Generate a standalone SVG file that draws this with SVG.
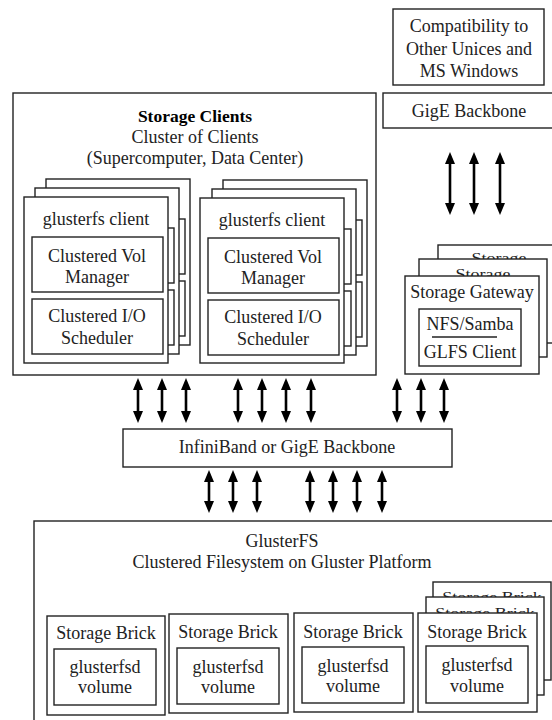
<svg xmlns="http://www.w3.org/2000/svg" width="552" height="720" viewBox="0 0 552 720">
<style>
.box{fill:#fff;stroke:#222;stroke-width:1.4}
.t{font-family:"Liberation Serif","Times New Roman",serif;font-size:18px;fill:#222;text-anchor:middle}
.b{font-weight:bold;font-size:17.5px;fill:#000}
.arr{stroke:#000;stroke-width:2.6;marker-start:url(#ah);marker-end:url(#ah)}
</style>
<defs>
<marker id="ah" viewBox="0 0 12 10" refX="2" refY="5" markerWidth="12" markerHeight="10" markerUnits="userSpaceOnUse" orient="auto-start-reverse">
<path d="M0,0 L12,5 L0,10 z" fill="#000"/>
</marker>
<g id="cardBack">
<rect class="box" x="0" y="0" width="144" height="166"/>
<rect class="box" x="8" y="40" width="131" height="55"/>
<rect class="box" x="8" y="102" width="131" height="55"/>
</g>
</defs>
<rect width="552" height="720" fill="#fff"/>

<g id="compat">
<rect class="box" x="393" y="9" width="151" height="76"/>
<text class="t" x="469" y="32">Compatibility to</text>
<text class="t" x="469" y="55">Other Unices and</text>
<text class="t" x="469" y="77">MS Windows</text>
</g>

<g id="gige">
<rect class="box" x="383" y="93" width="180" height="35"/>
<text class="t" x="469" y="117">GigE Backbone</text>
</g>

<g id="storage-clients">
<rect class="box" x="13" y="93" width="363" height="282"/>
<text class="t b" x="195" y="122">Storage Clients</text>
<text class="t" x="195" y="143">Cluster of Clients</text>
<text class="t" x="195" y="164">(Supercomputer, Data Center)</text>
</g>

<g id="client-a">
<use href="#cardBack" x="46" y="179"/>
<use href="#cardBack" x="35" y="188"/>
<g transform="translate(24,197)">
<rect class="box" x="0" y="0" width="144" height="166"/>
<text class="t" x="72" y="28">glusterfs client</text>
<rect class="box" x="8" y="40" width="131" height="55"/>
<text class="t" x="73" y="65">Clustered Vol</text>
<text class="t" x="73" y="86">Manager</text>
<rect class="box" x="8" y="102" width="131" height="55"/>
<text class="t" x="73" y="125">Clustered I/O</text>
<text class="t" x="73" y="147">Scheduler</text>
</g>
</g>

<g id="client-b">
<use href="#cardBack" x="223" y="180"/>
<use href="#cardBack" x="212" y="189"/>
<g transform="translate(200,198)">
<rect class="box" x="0" y="0" width="144" height="165"/>
<text class="t" x="72" y="28">glusterfs client</text>
<rect class="box" x="8" y="40" width="131" height="55"/>
<text class="t" x="73" y="65">Clustered Vol</text>
<text class="t" x="73" y="86">Manager</text>
<rect class="box" x="8" y="102" width="131" height="55"/>
<text class="t" x="73" y="125">Clustered I/O</text>
<text class="t" x="73" y="147">Scheduler</text>
</g>
</g>

<g id="gateway">
<rect class="box" x="438" y="245" width="130" height="98"/>
<text class="t" transform="translate(499,263) scale(1,0.78)">Storage</text>
<rect class="box" x="419" y="259" width="128" height="98"/>
<text class="t" transform="translate(483,278.5) scale(1,0.78)">Storage</text>
<rect class="box" x="405" y="276" width="134" height="98"/>
<text class="t" x="472" y="298">Storage Gateway</text>
<rect class="box" x="419" y="309" width="102" height="57"/>
<text class="t" x="470" y="330">NFS/Samba</text>
<line x1="432" y1="337" x2="497" y2="337" stroke="#222" stroke-width="1.4"/>
<text class="t" x="470" y="358">GLFS Client</text>
</g>

<g id="infiniband">
<rect class="box" x="123" y="429" width="329" height="38"/>
<text class="t" x="287" y="453">InfiniBand or GigE Backbone</text>
</g>

<g id="glusterfs">
<rect class="box" x="34" y="521" width="540" height="220"/>
<text class="t" x="282" y="547">GlusterFS</text>
<text class="t" x="282" y="568">Clustered Filesystem on Gluster Platform</text>
</g>

<g id="brick-1" transform="translate(47,616)">
<rect class="box" x="0" y="0" width="118" height="99"/>
<text class="t" x="59" y="23">Storage Brick</text>
<rect class="box" x="7" y="33" width="102" height="56"/>
<text class="t" x="58" y="57">glusterfsd</text>
<text class="t" x="58" y="77">volume</text>
</g>
<g id="brick-2" transform="translate(169,614)">
<rect class="box" x="0" y="0" width="119" height="99"/>
<text class="t" x="59" y="24">Storage Brick</text>
<rect class="box" x="8" y="34" width="102" height="56"/>
<text class="t" x="59" y="59">glusterfsd</text>
<text class="t" x="59" y="79">volume</text>
</g>
<g id="brick-3" transform="translate(294,613)">
<rect class="box" x="0" y="0" width="119" height="99"/>
<text class="t" x="59" y="25">Storage Brick</text>
<rect class="box" x="8" y="34" width="102" height="56"/>
<text class="t" x="59" y="59">glusterfsd</text>
<text class="t" x="59" y="79">volume</text>
</g>
<g id="brick-4">
<rect class="box" x="433" y="582" width="118" height="98"/>
<text class="t" transform="translate(492,602) scale(1,0.78)">Storage Brick</text>
<rect class="box" x="426" y="597" width="118" height="98"/>
<text class="t" transform="translate(485,618) scale(1,0.78)">Storage Brick</text>
<g transform="translate(418,613)">
<rect class="box" x="0" y="0" width="119" height="99"/>
<text class="t" x="59" y="25">Storage Brick</text>
<rect class="box" x="8" y="33" width="102" height="57"/>
<text class="t" x="59" y="58">glusterfsd</text>
<text class="t" x="59" y="79">volume</text>
</g>
</g>

<g id="connectors">
<line class="arr" x1="450" y1="162" x2="450" y2="205"/>
<line class="arr" x1="474" y1="162" x2="474" y2="205"/>
<line class="arr" x1="500" y1="162" x2="500" y2="205"/>

<line class="arr" x1="138" y1="388" x2="138" y2="413"/>
<line class="arr" x1="162" y1="388" x2="162" y2="413"/>
<line class="arr" x1="186" y1="388" x2="186" y2="413"/>
<line class="arr" x1="238" y1="388" x2="238" y2="413"/>
<line class="arr" x1="262" y1="388" x2="262" y2="413"/>
<line class="arr" x1="286" y1="388" x2="286" y2="413"/>
<line class="arr" x1="311" y1="388" x2="311" y2="413"/>
<line class="arr" x1="397" y1="388" x2="397" y2="413"/>
<line class="arr" x1="421" y1="388" x2="421" y2="413"/>
<line class="arr" x1="444" y1="388" x2="444" y2="413"/>

<line class="arr" x1="209" y1="480" x2="209" y2="503"/>
<line class="arr" x1="233" y1="480" x2="233" y2="503"/>
<line class="arr" x1="257" y1="480" x2="257" y2="503"/>
<line class="arr" x1="310" y1="480" x2="310" y2="503"/>
<line class="arr" x1="333" y1="480" x2="333" y2="503"/>
<line class="arr" x1="357" y1="480" x2="357" y2="503"/>
<line class="arr" x1="382" y1="480" x2="382" y2="503"/>
</g>
</svg>
